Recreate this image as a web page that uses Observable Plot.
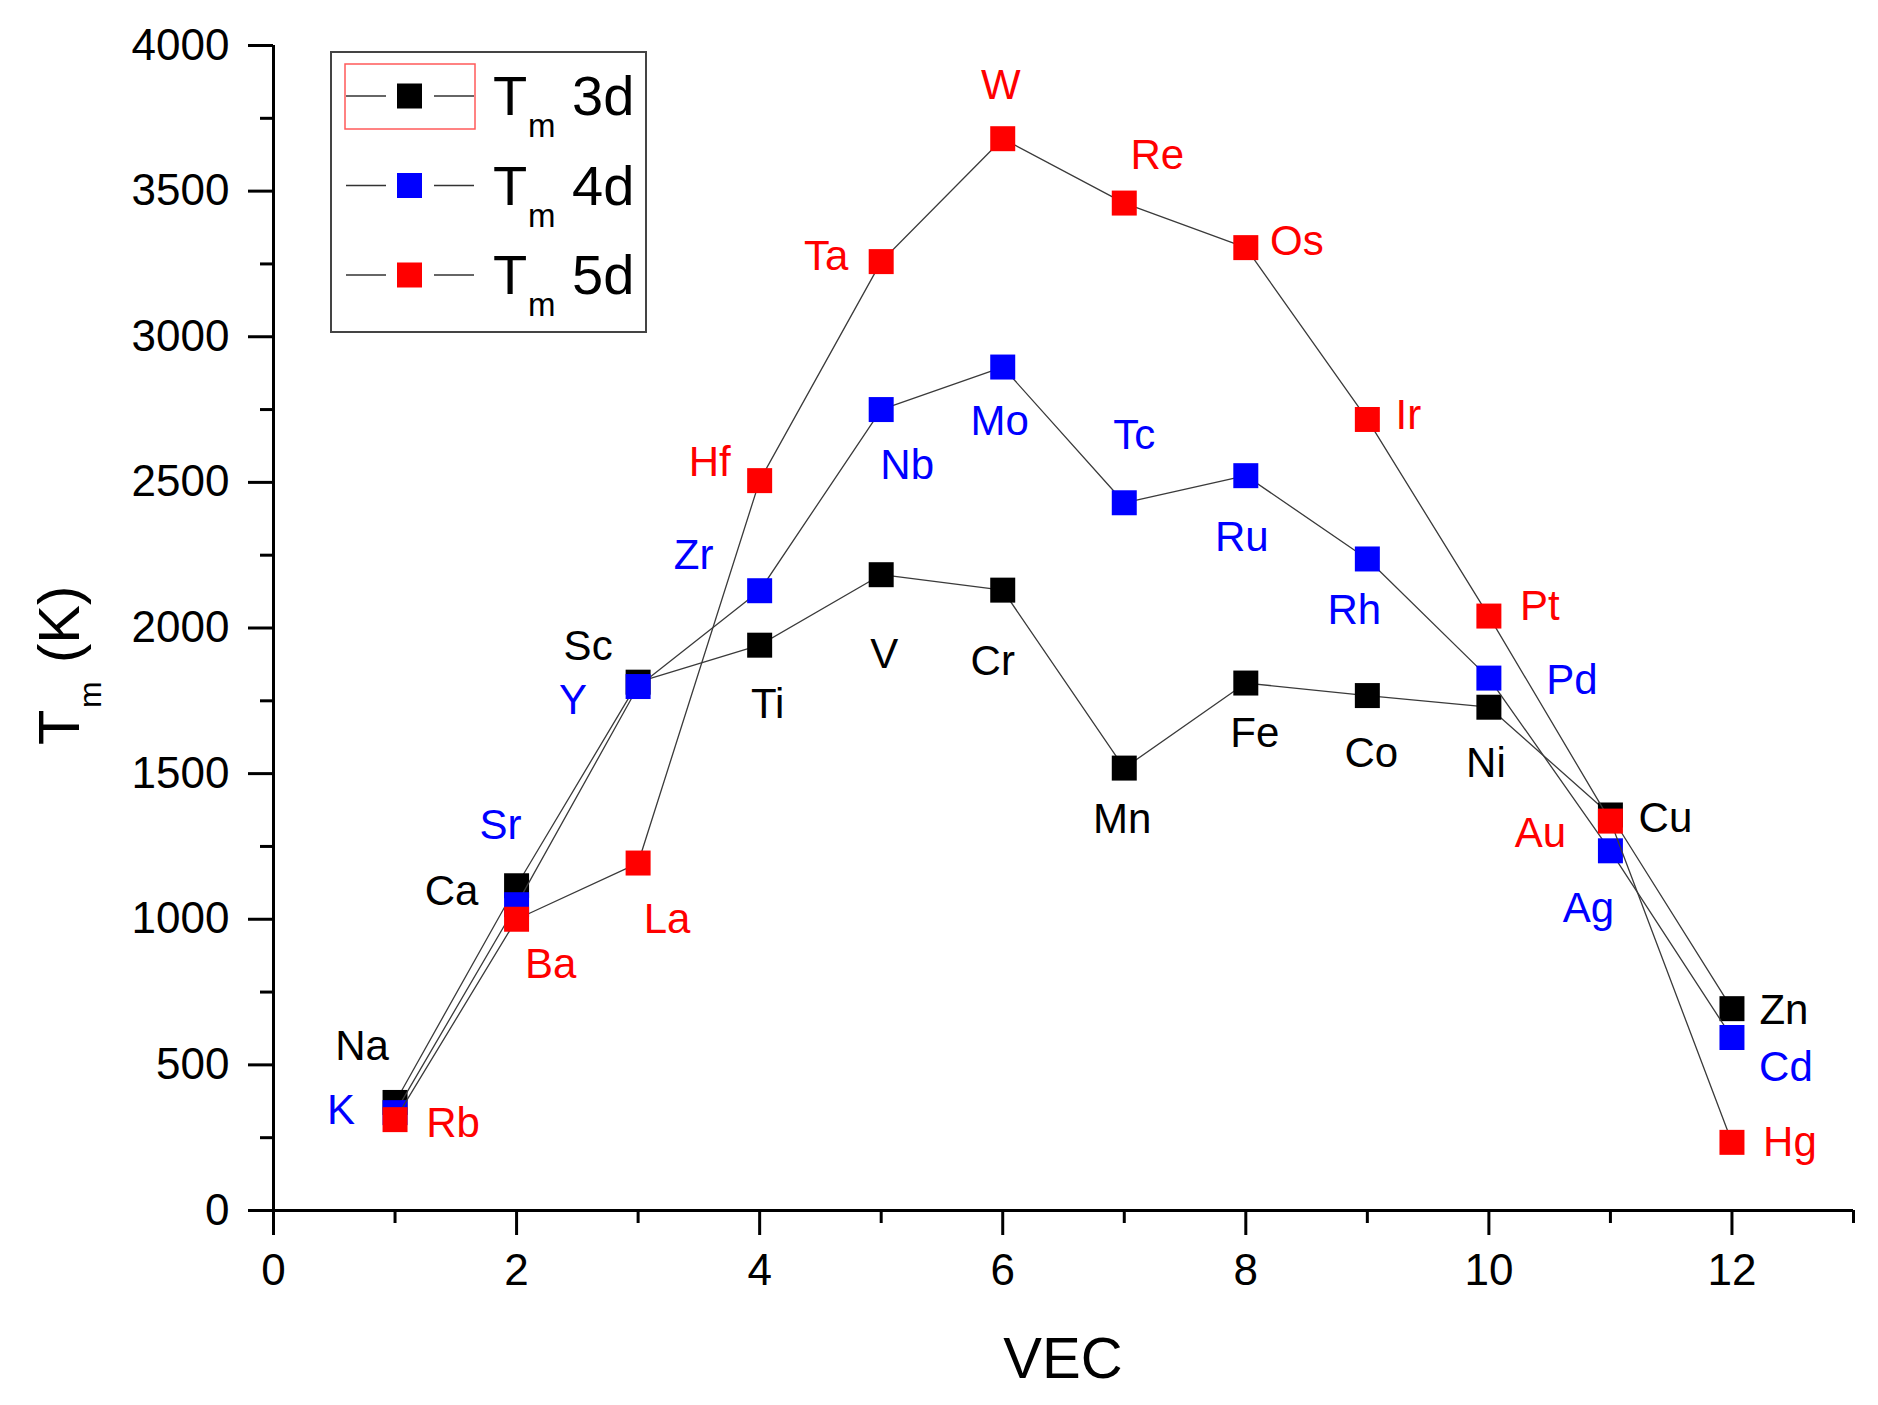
<!DOCTYPE html>
<html><head><meta charset="utf-8">
<script src="https://cdn.jsdelivr.net/npm/d3@7"></script>
<script src="https://cdn.jsdelivr.net/npm/@observablehq/plot@0.6"></script>
<style>html,body{margin:0;padding:0;background:#fff;} svg{display:block}</style>
</head><body><div id="chart"></div>
<script>
// ---- data ----
const vec = [1,2,3,4,5,6,7,8,9,10,11,12];
const el3d = ["Na","Ca","Sc","Ti","V","Cr","Mn","Fe","Co","Ni","Cu","Zn"];
const tm3d = [371,1115,1814,1941,2183,2130,1519,1811,1768,1728,1358,693];
const el4d = ["K","Sr","Y","Zr","Nb","Mo","Tc","Ru","Rh","Pd","Ag","Cd"];
const tm4d = [336,1050,1799,2128,2750,2896,2430,2523,2237,1828,1235,594];
const el5d = ["Rb","Ba","La","Hf","Ta","W","Re","Os","Ir","Pt","Au","Hg"];
const tm5d = [312,1000,1193,2506,3258,3680,3459,3306,2716,2041,1337,234];
const seriesNames = ["3d","4d","5d"];
const xTicks = [0,2,4,6,8,10,12];
const xMinor = [1,3,5,7,9,11,13];
const yTicks = [0,500,1000,1500,2000,2500,3000,3500,4000];
const yMinor = [250,750,1250,1750,2250,2750,3250,3750];

// ---- layout (label offsets in px from marker centre) ----
const dx3d = [-33,-65,-50,8,3,-10,-2,9,4,-3,55,52];
const dy3d = [-56,6,-36,59,80,71,51,51,58,56,4,2];
const dx4d = [-54,-16,-65,-66,26,-3,10,-4,-13,83,-22,54];
const dy4d = [-2,-79,14,-35,56,55,-67,62,52,2,58,30];
const dx5d = [58,34,29,-50,-55,-2,33,51,41,51,-70,58];
const dy5d = [4,45,57,-18,-5,-53,-48,-6,-4,-10,12,0];
const colors = ["#000000","#0000ff","#ff0000"];
const FONT = "'Liberation Sans', Arial, sans-serif";

const series = [
  {name: seriesNames[0], els: el3d, tm: tm3d, dx: dx3d, dy: dy3d, color: colors[0]},
  {name: seriesNames[1], els: el4d, tm: tm4d, dx: dx4d, dy: dy4d, color: colors[1]},
  {name: seriesNames[2], els: el5d, tm: tm5d, dx: dx5d, dy: dy5d, color: colors[2]}
];

const marks = [];
for (const s of series) {
  const data = vec.map((v, i) => ({vec: v, tm: s.tm[i], el: s.els[i]}));
  marks.push(Plot.line(data, {x: "vec", y: "tm", stroke: "#3a3a3a", strokeWidth: 1.3}));
  marks.push(Plot.dot(data, {x: "vec", y: "tm", symbol: "square", r: 14.1, fill: s.color, stroke: "none"}));
}
for (const s of series) {
  vec.forEach((v, i) => {
    marks.push(Plot.text([{vec: v, tm: s.tm[i], el: s.els[i]}], {
      x: "vec", y: "tm", text: "el", fill: s.color, fontSize: 42,
      dx: s.dx[i], dy: s.dy[i], textAnchor: "middle", lineAnchor: "middle"
    }));
  });
}

const fmt = d => String(d);
const chart = Plot.plot({
  width: 1878, height: 1405,
  marginLeft: 273, marginRight: 25, marginTop: 45, marginBottom: 195,
  style: {fontFamily: FONT, background: "white", color: "black"},
  x: {domain: [0, 13]},
  y: {domain: [0, 4000]},
  marks: [
    Plot.axisY(yTicks, {anchor: "left", tickSize: 25, tickPadding: 19, fontSize: 44, strokeWidth: 3, tickFormat: fmt, label: null}),
    Plot.axisY(yMinor, {anchor: "left", tickSize: 13, tickFormat: () => "", strokeWidth: 3, label: null}),
    Plot.axisX(xTicks, {anchor: "bottom", tickSize: 25, tickPadding: 18, fontSize: 44, strokeWidth: 3, tickFormat: fmt, label: null}),
    Plot.axisX(xMinor, {anchor: "bottom", tickSize: 13, tickFormat: () => "", strokeWidth: 3, label: null}),
    Plot.ruleX([0], {strokeWidth: 3}),
    Plot.ruleY([0], {strokeWidth: 3}),
    ...marks
  ]
});
document.getElementById("chart").appendChild(chart);

// ---- axis titles & legend ----
const svg = d3.select(chart);
function txt(parent, x, y, size, s, anchor = "start") {
  return parent.append("text").attr("x", x).attr("y", y)
    .attr("font-family", FONT).attr("font-size", size).attr("fill", "black")
    .attr("text-anchor", anchor).text(s);
}
txt(svg, 1063, 1378, 58, "VEC", "middle");

const yt = svg.append("g").attr("transform", "translate(79,745) rotate(-90)");
txt(yt, 0, 0, 58, "T");
txt(yt, 37, 22, 32, "m");
txt(yt, 82, 0, 58, "(K)");

const lg = svg.append("g");
lg.append("rect").attr("x", 331).attr("y", 52).attr("width", 315).attr("height", 280)
  .attr("fill", "white").attr("stroke", "#444").attr("stroke-width", 2);
lg.append("rect").attr("x", 345).attr("y", 64).attr("width", 130).attr("height", 65)
  .attr("fill", "none").attr("stroke", "#ff5a5a").attr("stroke-width", 1.5);
series.forEach((s, k) => {
  const cy = 96 + k * 89.5;
  lg.append("line").attr("x1", 346).attr("x2", 386).attr("y1", cy).attr("y2", cy).attr("stroke", "#333").attr("stroke-width", 1.3);
  lg.append("line").attr("x1", 434).attr("x2", 474).attr("y1", cy).attr("y2", cy).attr("stroke", "#333").attr("stroke-width", 1.3);
  lg.append("rect").attr("x", 397).attr("y", cy - 12.5).attr("width", 25).attr("height", 25).attr("fill", s.color);
  txt(lg, 493, cy + 19, 56, "T");
  txt(lg, 528, cy + 41, 33, "m");
  txt(lg, 572, cy + 19, 56, s.name);
});
</script>
</body></html>
